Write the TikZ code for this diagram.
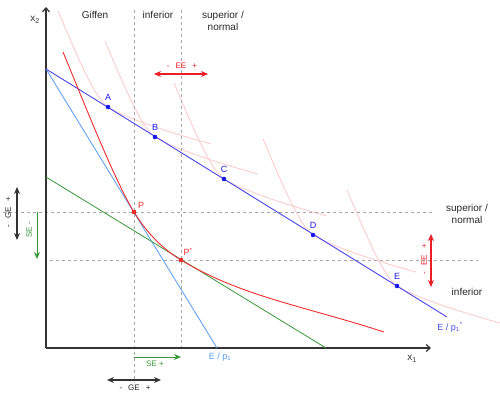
\documentclass[tikz,border=0pt]{standalone}
\usepackage{fontspec}
\setmainfont{Liberation Sans}
\usetikzlibrary{arrows.meta}

\definecolor{budget}{RGB}{70,70,235}
\definecolor{budgetold}{RGB}{85,155,245}
\definecolor{icpink}{RGB}{255,200,200}
\definecolor{icred}{RGB}{240,45,45}
\definecolor{compgreen}{RGB}{55,150,55}
\definecolor{ptblue}{RGB}{25,25,240}
\definecolor{eered}{RGB}{235,30,40}

\tikzset{
  axis/.style={line width=1.2pt,black!80,-{Straight Barb[length=4pt,width=7pt]}},
  guide/.style={black!35,line width=0.7pt,dash pattern=on 3pt off 3pt},
  icurve/.style={icpink,line width=0.8pt},
  effect/.style={line width=1.3pt,{Stealth[length=7pt,width=6pt]}-{Stealth[length=7pt,width=6pt]}},
  subst/.style={compgreen,line width=1pt,-{Stealth[length=7pt,width=6pt]}},
  lbl/.style={font=\fontsize{9}{10}\selectfont,inner sep=1pt},
  head/.style={font=\fontsize{10}{12}\selectfont,black!85,align=center,inner sep=1pt},
}

% one indifference curve, tangent at #1
\newcommand{\indiff}[1]{%
  \draw[icurve,shift={(#1)}] (-50,-96) .. controls (-35,-61) and (-14,-8.7) .. (0,0)
    .. controls (20,12.4) and (70,28) .. (103,37);}

\begin{document}
\begin{tikzpicture}[x=1pt,y=-1pt]
  \useasboundingbox (0,0) rectangle (500,396);
  \coordinate (O) at (46,348);
  \coordinate (Y) at (46,7);
  \coordinate (X) at (431,348);
  \coordinate (I0) at (46,69);
  \coordinate (Bend) at (447,317);
  \coordinate (Lend) at (217,348);
  \coordinate (G0) at (46,177);
  \coordinate (Gend) at (326,348);
  \coordinate (A) at (108,107);
  \coordinate (B) at (155,137);
  \coordinate (C) at (224,179);
  \coordinate (D) at (313,235);
  \coordinate (E) at (397,286);
  \coordinate (P) at (134,212);
  \coordinate (Ps) at (181,260);

  % indifference curves
  \foreach \pt in {A,B,C,D,E} {\indiff{\pt}}

  % guides
  \draw[guide] (134,10) -- (134,383);
  \draw[guide] (181,10) -- (181,350);
  \draw[guide] (3,212) -- (433,212);
  \draw[guide] (50,260) -- (478,260);

  % axes
  \draw[axis] (O) -- (Y);
  \draw[axis] (O) -- (X);
  \node[lbl,black!80,font=\fontsize{10}{11}\selectfont] (x2) at (35,20) {x\textsubscript{2}};
  \node[lbl,black!80,font=\fontsize{10}{11}\selectfont] (x1) at (412,359) {x\textsubscript{1}};

  % budget lines
  \draw[budgetold,line width=0.8pt] (I0) -- (Lend);
  \draw[budget,line width=0.9pt] (I0) -- (Bend);
  \draw[compgreen,line width=0.8pt] (G0) -- (Gend);
  \draw[icred,line width=0.9pt] (63,52) .. controls (83,100) and (114,179.5) .. (P)
    .. controls (149,236.4) and (166,250.9) .. (Ps)
    .. controls (241,296.4) and (304,306) .. (384,332);
  \node[lbl,budgetold] (lold) at (220,357) {E / p\textsubscript{1}};
  \node[lbl,budget] (lnew) at (450,327) {E / p\textsubscript{1}\textsuperscript{*}};

  % points
  \foreach \pt in {A,B,C,D,E} {
    \fill[ptblue] (\pt) circle (2.3pt);
    \node[lbl,ptblue] (l\pt) at ([yshift=10pt]\pt) {\pt};
  }
  \fill[icred] ([shift={(-2.1pt,-2.1pt)}]P) rectangle ([shift={(2.1pt,2.1pt)}]P);
  \fill[icred] ([shift={(-2.1pt,-2.1pt)}]Ps) rectangle ([shift={(2.1pt,2.1pt)}]Ps);
  \node[lbl,icred] (lP) at (141,205) {P};
  \node[lbl,icred] (lPs) at (188,252) {P\textsuperscript{*}};

  % regions
  \node[head] (giffen) at (95,15) {Giffen};
  \node[head] (inf) at (158,15) {inferior};
  \node[head] (sup) at (223,21) {superior /\\normal};
  \node[head] (supr) at (467,214) {superior /\\normal};
  \node[head] (infr) at (467,292) {inferior};

  % effects
  \coordinate (ee1) at (154,74);
  \coordinate (ee2) at (208,74);
  \draw[effect,eered] (ee1) -- (ee2);
  \node[lbl,eered,font=\fontsize{8}{9}\selectfont] (lee) at (182,66) {-\hspace{6pt}EE\hspace{6pt}+};
  \coordinate (ee3) at (431,287);
  \coordinate (ee4) at (431,234);
  \draw[effect,eered] (ee3) -- (ee4);
  \node[lbl,eered,rotate=90,font=\fontsize{8}{9}\selectfont] (leer) at (424,259) {-\hspace{6pt}EE\hspace{6pt}+};
  \coordinate (ge1) at (17,240);
  \coordinate (ge2) at (17,187);
  \draw[effect,black!80] (ge1) -- (ge2);
  \node[lbl,black!85,rotate=90,font=\fontsize{8}{9}\selectfont] (lge) at (8,212) {-\hspace{6pt}GE\hspace{6pt}+};
  \coordinate (ge3) at (107,380);
  \coordinate (ge4) at (161,380);
  \draw[effect,black!80] (ge3) -- (ge4);
  \node[lbl,black!85,font=\fontsize{8}{9}\selectfont] (lgeb) at (135,388) {-\hspace{6pt}GE\hspace{6pt}+};
  \coordinate (se1) at (37,212);
  \coordinate (se2) at (37,259);
  \draw[subst] (se1) -- (se2);
  \node[lbl,compgreen,rotate=90,font=\fontsize{8}{9}\selectfont] (lse) at (29,230) {SE -};
  \coordinate (se3) at (134,357);
  \coordinate (se4) at (181,357);
  \draw[subst] (se3) -- (se4);
  \node[lbl,compgreen,font=\fontsize{8}{9}\selectfont] (lseb) at (155,364) {SE +};
\end{tikzpicture}
\end{document}
